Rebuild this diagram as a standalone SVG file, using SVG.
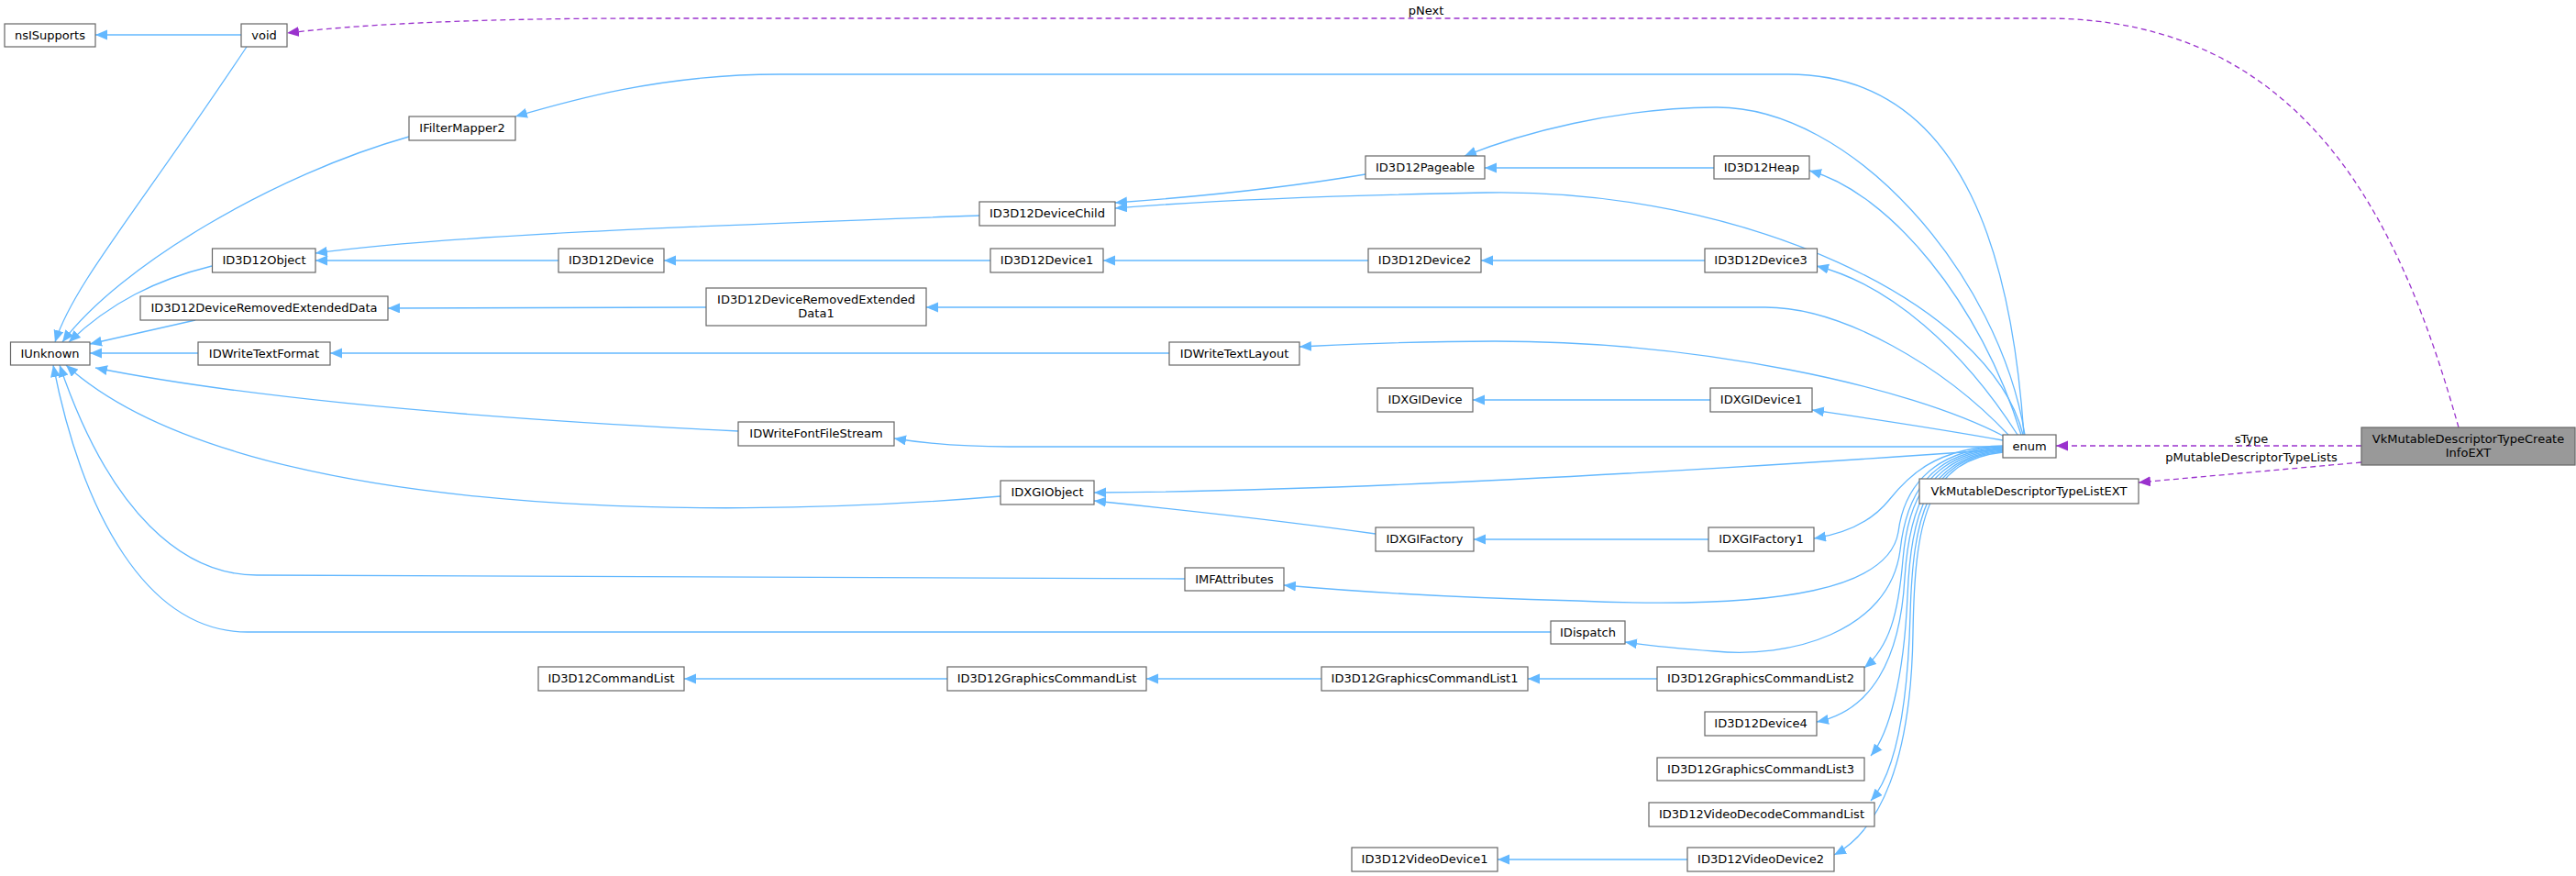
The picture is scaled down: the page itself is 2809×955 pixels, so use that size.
<svg xmlns="http://www.w3.org/2000/svg" width="2809" height="955" viewBox="0 0 2809 955">
<style>
.n rect{fill:#fff;stroke:#666;stroke-width:1.2}
.n text,.l{font-family:"DejaVu Sans",sans-serif;font-size:13px;fill:#000;text-anchor:middle}
.e{fill:none;stroke:#63b8ff;stroke-width:1.3}
.d{fill:none;stroke:#9a32cd;stroke-width:1.3;stroke-dasharray:6,4}
</style>
<defs>
<marker id="a" markerUnits="userSpaceOnUse" markerWidth="14" markerHeight="12" refX="13" refY="5.5" orient="auto"><path d="M0,0 L13,5.5 L0,11 z" fill="#63b8ff"/></marker>
<marker id="p" markerUnits="userSpaceOnUse" markerWidth="14" markerHeight="12" refX="13" refY="5.5" orient="auto"><path d="M0,0 L13,5.5 L0,11 z" fill="#9a32cd"/></marker>
</defs>
<g id="edges">
<path class="e" marker-end="url(#a)" d="M263,38 L104,38"/>
<path class="e" marker-end="url(#a)" d="M269,51 C150,230 80,310 60,373"/>
<path class="e" marker-end="url(#a)" d="M446,149 C300,190 130,290 68,373"/>
<path class="e" marker-end="url(#a)" d="M231,290 C170,305 120,330 75,373"/>
<path class="e" marker-end="url(#a)" d="M213,349 L98,375"/>
<path class="e" marker-end="url(#a)" d="M216,385 L98,385"/>
<path class="e" marker-end="url(#a)" d="M805,470 C600,460 300,440 104,401"/>
<path class="e" marker-end="url(#a)" d="M1091,541 C750,570 250,560 72,398"/>
<path class="e" marker-end="url(#a)" d="M1292,631 L280,627 C200,627 120,560 65,398"/>
<path class="e" marker-end="url(#a)" d="M1691,689 L270,689 C160,689 90,560 58,398"/>
<path class="e" marker-end="url(#a)" d="M1068,235 C800,245 500,255 344,276"/>
<path class="e" marker-end="url(#a)" d="M609,284 L344,284"/>
<path class="e" marker-end="url(#a)" d="M1080,284 L724,284"/>
<path class="e" marker-end="url(#a)" d="M770,335 L423,336"/>
<path class="e" marker-end="url(#a)" d="M1275,385 L360,385"/>
<path class="e" marker-end="url(#a)" d="M1489,190 C1400,205 1300,215 1216,221"/>
<path class="e" marker-end="url(#a)" d="M1869,183 L1619,183"/>
<path class="e" marker-end="url(#a)" d="M1492,284 L1203,284"/>
<path class="e" marker-end="url(#a)" d="M1859,284 L1615,284"/>
<path class="e" marker-end="url(#a)" d="M1865,436 L1606,436"/>
<path class="e" marker-end="url(#a)" d="M1500,582 C1380,565 1280,555 1193,546"/>
<path class="e" marker-end="url(#a)" d="M1863,588 L1607,588"/>
<path class="e" marker-end="url(#a)" d="M1033,740 L746,740"/>
<path class="e" marker-end="url(#a)" d="M1441,740 L1250,740"/>
<path class="e" marker-end="url(#a)" d="M1807,740 L1666,740"/>
<path class="e" marker-end="url(#a)" d="M1840,937 L1633,937"/>
<path class="e" marker-end="url(#a)" d="M2207,474 C2195,300 2150,81 1950,81 L850,81 C720,81 620,110 562,127"/>
<path class="e" marker-end="url(#a)" d="M2208,474 C2180,300 2020,115 1870,117 C1760,118 1660,145 1597,170"/>
<path class="e" marker-end="url(#a)" d="M2206,474 C2170,330 1900,205 1620,210 C1450,213 1300,220 1216,227"/>
<path class="e" marker-end="url(#a)" d="M2204,474 C2160,330 2060,210 1973,186"/>
<path class="e" marker-end="url(#a)" d="M2200,474 C2140,380 2060,310 1981,290"/>
<path class="e" marker-end="url(#a)" d="M2190,474 C2120,400 2010,335 1925,335 L1010,335"/>
<path class="e" marker-end="url(#a)" d="M2186,476 C2080,420 1850,372 1630,372 C1530,372 1460,376 1417,378"/>
<path class="e" marker-end="url(#a)" d="M2184,480 C2100,465 2030,455 1976,447"/>
<path class="e" marker-end="url(#a)" d="M2184,487 L1100,487 C1040,487 1000,482 975,478"/>
<path class="e" marker-end="url(#a)" d="M2184,490 C1900,510 1500,535 1193,537"/>
<path class="e" marker-end="url(#a)" d="M2184,486 C2110,488 2080,520 2060,545 C2040,570 2010,582 1978,587"/>
<path class="e" marker-end="url(#a)" d="M2184,487 C2100,490 2075,540 2070,580 C2060,640 1950,665 1720,655 C1600,652 1480,645 1400,638"/>
<path class="e" marker-end="url(#a)" d="M2184,488 C2100,492 2078,545 2072,600 C2060,690 1950,718 1870,710 C1830,707 1800,704 1772,700"/>
<path class="e" marker-end="url(#a)" d="M2184,489 C2100,494 2080,550 2075,610 C2070,670 2060,705 2033,728"/>
<path class="e" marker-end="url(#a)" d="M2184,490 C2100,496 2082,555 2077,630 C2072,720 2040,775 1981,787"/>
<path class="e" marker-end="url(#a)" d="M2184,491 C2100,498 2084,560 2080,650 C2076,740 2060,800 2040,824"/>
<path class="e" marker-end="url(#a)" d="M2184,492 C2100,500 2086,565 2083,670 C2080,780 2065,845 2040,873"/>
<path class="e" marker-end="url(#a)" d="M2184,493 C2100,502 2088,570 2086,690 C2084,830 2050,905 2000,932"/>
<path class="d" marker-end="url(#p)" d="M2681,466 C2620,250 2520,20 2230,20 L700,20 C500,20 380,28 313,36"/>
<path class="d" marker-end="url(#p)" d="M2575,486 L2242,486"/>
<path class="d" marker-end="url(#p)" d="M2575,504 L2332,526"/>
<text class="l" x="1555" y="16">pNext</text>
<text class="l" x="2455" y="483">sType</text>
<text class="l" x="2455" y="503">pMutableDescriptorTypeLists</text>
</g>
<g id="nsISupports" class="n"><rect x="5" y="26" width="99" height="25"/><text x="54.5" y="43">nsISupports</text></g>
<g id="void" class="n"><rect x="263" y="26" width="50" height="25"/><text x="288" y="43">void</text></g>
<g id="IFilterMapper2" class="n"><rect x="446" y="127" width="116" height="26"/><text x="504" y="144">IFilterMapper2</text></g>
<g id="ID3D12Object" class="n"><rect x="231.5" y="271" width="112.5" height="26"/><text x="288" y="288">ID3D12Object</text></g>
<g id="ID3D12Device" class="n"><rect x="609" y="271" width="115" height="26"/><text x="666.5" y="288">ID3D12Device</text></g>
<g id="ID3D12DeviceRemovedExtendedData" class="n"><rect x="153" y="323" width="270" height="26"/><text x="288" y="340">ID3D12DeviceRemovedExtendedData</text></g>
<g id="ID3D12DeviceRemovedExtendedData1" class="n"><rect x="770" y="314" width="240" height="41"/><text x="890" y="331">ID3D12DeviceRemovedExtended</text><text x="890" y="346">Data1</text></g>
<g id="IUnknown" class="n"><rect x="11.5" y="373" width="86.5" height="25"/><text x="54.5" y="390">IUnknown</text></g>
<g id="IDWriteTextFormat" class="n"><rect x="216" y="373" width="144" height="25"/><text x="288" y="390">IDWriteTextFormat</text></g>
<g id="IDWriteFontFileStream" class="n"><rect x="805" y="460" width="170" height="26"/><text x="890" y="477">IDWriteFontFileStream</text></g>
<g id="ID3D12Pageable" class="n"><rect x="1489" y="170" width="130" height="25"/><text x="1554" y="187">ID3D12Pageable</text></g>
<g id="ID3D12Heap" class="n"><rect x="1869" y="170" width="104" height="25"/><text x="1921" y="187">ID3D12Heap</text></g>
<g id="ID3D12DeviceChild" class="n"><rect x="1068" y="220" width="148" height="26"/><text x="1142" y="237">ID3D12DeviceChild</text></g>
<g id="ID3D12Device1" class="n"><rect x="1080" y="271" width="123" height="26"/><text x="1141.5" y="288">ID3D12Device1</text></g>
<g id="ID3D12Device2" class="n"><rect x="1492" y="271" width="123" height="26"/><text x="1553.5" y="288">ID3D12Device2</text></g>
<g id="ID3D12Device3" class="n"><rect x="1859" y="271" width="122.5" height="26"/><text x="1920" y="288">ID3D12Device3</text></g>
<g id="IDWriteTextLayout" class="n"><rect x="1275" y="373" width="142" height="25"/><text x="1346" y="390">IDWriteTextLayout</text></g>
<g id="IDXGIDevice" class="n"><rect x="1502" y="423" width="104" height="26"/><text x="1554" y="440">IDXGIDevice</text></g>
<g id="IDXGIDevice1" class="n"><rect x="1865" y="423" width="111" height="26"/><text x="1920.5" y="440">IDXGIDevice1</text></g>
<g id="enum" class="n"><rect x="2184" y="474" width="58" height="25"/><text x="2213" y="491">enum</text></g>
<g id="VkMutableDescriptorTypeCreateInfoEXT" class="n"><rect x="2575" y="466" width="233" height="41" style="fill:#999"/><text x="2691.5" y="483">VkMutableDescriptorTypeCreate</text><text x="2691.5" y="498">InfoEXT</text></g>
<g id="VkMutableDescriptorTypeListEXT" class="n"><rect x="2093" y="522" width="239" height="27"/><text x="2212.5" y="540">VkMutableDescriptorTypeListEXT</text></g>
<g id="IDXGIObject" class="n"><rect x="1091" y="524" width="102" height="26"/><text x="1142" y="541">IDXGIObject</text></g>
<g id="IDXGIFactory" class="n"><rect x="1500" y="575" width="107" height="26"/><text x="1553.5" y="592">IDXGIFactory</text></g>
<g id="IDXGIFactory1" class="n"><rect x="1863" y="575" width="115" height="26"/><text x="1920.5" y="592">IDXGIFactory1</text></g>
<g id="IMFAttributes" class="n"><rect x="1292" y="619" width="108" height="25"/><text x="1346" y="636">IMFAttributes</text></g>
<g id="IDispatch" class="n"><rect x="1691" y="677" width="81" height="25"/><text x="1731.5" y="694">IDispatch</text></g>
<g id="ID3D12CommandList" class="n"><rect x="587" y="727" width="159" height="26"/><text x="666.5" y="744">ID3D12CommandList</text></g>
<g id="ID3D12GraphicsCommandList" class="n"><rect x="1033" y="727" width="217" height="26"/><text x="1141.5" y="744">ID3D12GraphicsCommandList</text></g>
<g id="ID3D12GraphicsCommandList1" class="n"><rect x="1441" y="727" width="225" height="26"/><text x="1553.5" y="744">ID3D12GraphicsCommandList1</text></g>
<g id="ID3D12GraphicsCommandList2" class="n"><rect x="1807" y="727" width="226" height="26"/><text x="1920" y="744">ID3D12GraphicsCommandList2</text></g>
<g id="ID3D12Device4" class="n"><rect x="1859" y="776" width="122" height="26"/><text x="1920" y="793">ID3D12Device4</text></g>
<g id="ID3D12GraphicsCommandList3" class="n"><rect x="1807" y="826" width="226" height="25"/><text x="1920" y="843">ID3D12GraphicsCommandList3</text></g>
<g id="ID3D12VideoDecodeCommandList" class="n"><rect x="1798" y="875" width="246" height="26"/><text x="1921" y="892">ID3D12VideoDecodeCommandList</text></g>
<g id="ID3D12VideoDevice1" class="n"><rect x="1474" y="924" width="159" height="26"/><text x="1553.5" y="941">ID3D12VideoDevice1</text></g>
<g id="ID3D12VideoDevice2" class="n"><rect x="1840" y="924" width="160" height="26"/><text x="1920" y="941">ID3D12VideoDevice2</text></g>
</svg>
